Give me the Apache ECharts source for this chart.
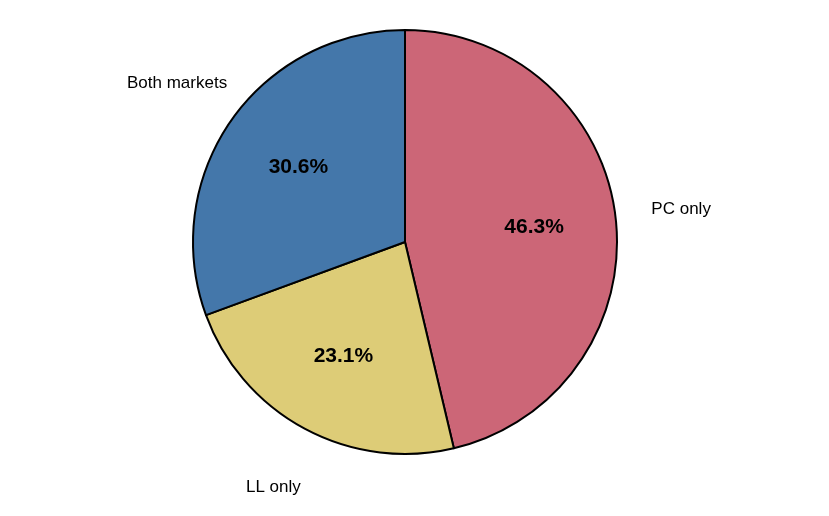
<!DOCTYPE html>
<html><head><meta charset="utf-8">
<script src="https://cdn.jsdelivr.net/npm/echarts@6/dist/echarts.min.js"></script>
<style>html,body{margin:0;padding:0;background:#fff}#c{width:829px;height:516px}</style>
</head><body><div id="c"></div>
<script>
const categories = ['PC only', 'LL only', 'Both markets'];
const values = [46.3, 23.1, 30.6];
const colors = ['#CC6677', '#DDCC77', '#4477AA'];
const center = ['405', '242'];
const data = categories.map((n, i) => ({ name: n, value: values[i], itemStyle: { color: colors[i] } }));
const clear = categories.map((n, i) => ({ name: n, value: values[i], itemStyle: { color: 'rgba(0,0,0,0)', borderWidth: 0 } }));
const chart = echarts.init(document.getElementById('c'));
chart.setOption({
  animation: false,
  series: [
    { type: 'pie', center, radius: [0, 212], startAngle: 90, clockwise: true, silent: true,
      itemStyle: { borderColor: '#000', borderWidth: 2 }, label: { show: false }, labelLine: { show: false }, data },
    { type: 'pie', center, radius: [0, 254], startAngle: 90, clockwise: true, silent: true, z: 5,
      label: { show: true, position: 'inside', formatter: p => p.value.toFixed(1) + '%',
        fontFamily: 'Liberation Sans', fontWeight: 'bold', fontSize: 21, color: '#000' },
      labelLine: { show: false }, data: clear },
    { type: 'pie', center, radius: [0, 550], startAngle: 90, clockwise: true, silent: true, z: 5,
      label: { show: true, position: 'inside', formatter: '{b}',
        fontFamily: 'Liberation Sans', fontSize: 17, color: '#000' },
      labelLine: { show: false }, data: clear }
  ]
});
</script></body></html>
